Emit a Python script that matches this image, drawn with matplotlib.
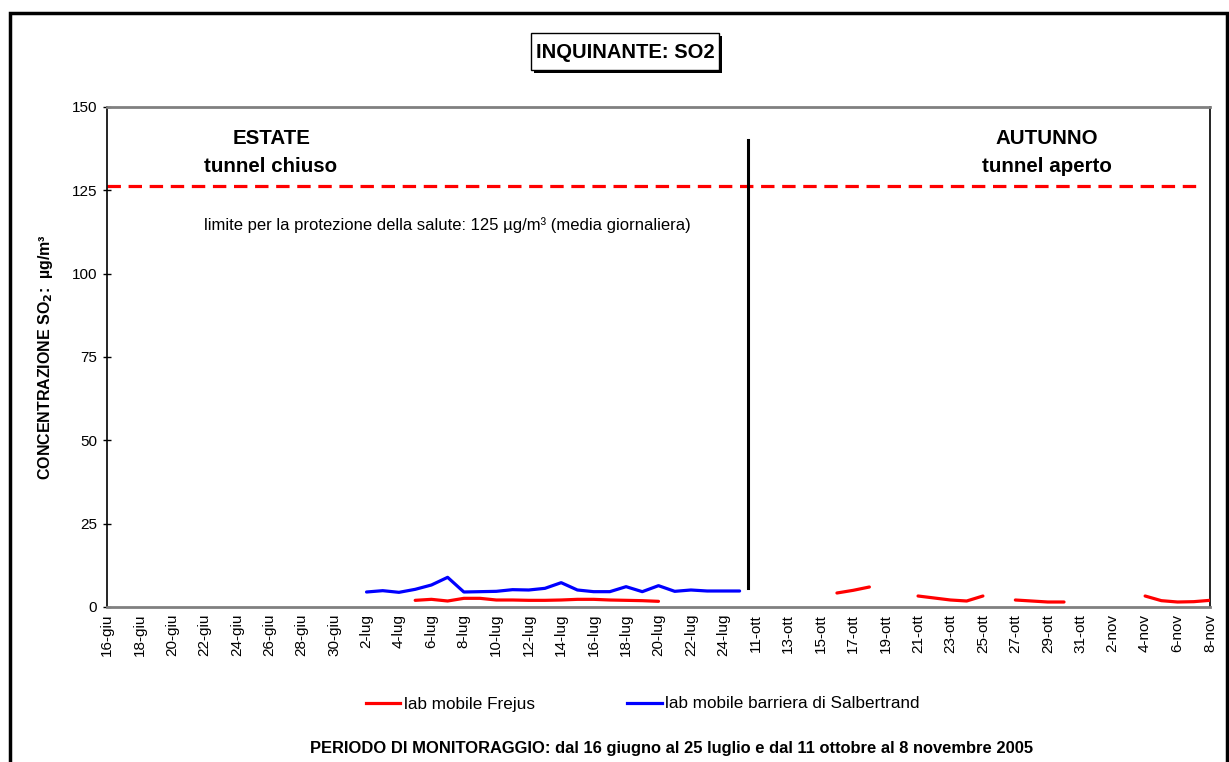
import numpy as np
import matplotlib
matplotlib.use("Agg")
import matplotlib.pyplot as plt
from matplotlib.patches import Rectangle
from matplotlib.lines import Line2D

plt.rcParams['font.family'] = ['Liberation Sans', 'DejaVu Sans']

# ---------------- data ----------------
summer_days = [f"{d}-giu" for d in range(16, 31)] + [f"{d}-lug" for d in range(1, 26)]
autumn_days = [f"{d}-ott" for d in range(11, 32)] + [f"{d}-nov" for d in range(1, 9)]
categories = summer_days + autumn_days

N = None
# lab mobile Frejus (red)
frejus_summer = [N] * 19 + [2.0, 2.3, 1.8, 2.6, 2.6, 2.1, 2.1, 2.0, 2.0, 2.1,
                            2.3, 2.3, 2.1, 2.0, 1.9, 1.7] + [N] * 5
frejus_autumn = [N, N, N, N, N, 4.2, 5.0, 6.0, N, N,
                 3.3, 2.7, 2.1, 1.8, 3.3, N, 2.1, 1.8, 1.5, 1.5,
                 N, N, N, N, 3.3, 1.9, 1.5, 1.6, 2.0]
# lab mobile barriera di Salbertrand (blue)
salbertrand_summer = [N] * 16 + [4.5, 4.9, 4.4, 5.3, 6.6, 8.9, 4.5, 4.6, 4.7, 5.2,
                                 5.1, 5.6, 7.3, 5.1, 4.6, 4.6, 6.1, 4.6, 6.4, 4.7,
                                 5.1, 4.8, 4.8, 4.8]
salbertrand_autumn = [N] * 29

frejus = frejus_summer + frejus_autumn
salbertrand = salbertrand_summer + salbertrand_autumn

limit_line_value = 126.3
separator_low, separator_high = 5.7, 140
y_ticks = [0, 25, 50, 75, 100, 125, 150]

def arr(v):
    return np.array([np.nan if x is None else x for x in v], dtype=float)

# ---------------- figure ----------------
W, H = 1229, 762
fig = plt.figure(figsize=(W / 100, H / 100), dpi=100)

def fx(px):
    return px / W

def fy(py):
    return 1 - py / H

ax = fig.add_axes([fx(107), fy(607), fx(1210) - fx(107), fy(107) - fy(607)])

x = np.arange(len(categories))
ax.plot(x, arr(frejus), color='#ff0000', lw=2.3, solid_capstyle='round', zorder=3)
ax.plot(x, arr(salbertrand), color='#0000ff', lw=2.3, solid_capstyle='round', zorder=3)

sep_x = len(summer_days) - 0.5
ax.plot([sep_x, sep_x], [separator_low, separator_high], color='black', lw=2.2, zorder=4)
ax.axhline(limit_line_value, xmin=0, xmax=(1197 - 107) / (1210 - 107), color='#ff0000',
           lw=2.3, ls=(0, (4.2, 2.4)), zorder=2)

ax.set_xlim(0, len(categories) - 1)
ax.set_ylim(0, 150)
ax.set_yticks(y_ticks)
ax.set_yticklabels([str(v) for v in y_ticks], fontsize=11)
ax.set_xticks(x[::2])
ax.set_xticklabels(categories[::2], rotation=90, fontsize=11)
ax.tick_params(axis='x', length=0, pad=5)
ax.tick_params(axis='y', direction='inout', length=6, width=1, pad=4)

for s in ['left', 'right']:
    ax.spines[s].set_color('black')
    ax.spines[s].set_linewidth(1.2)
for s in ['top', 'bottom']:
    ax.spines[s].set_color('#808080')
    ax.spines[s].set_linewidth(2)

ax.set_ylabel('CONCENTRAZIONE SO$_\\mathbf{2}$:  µg/m³', fontsize=11.5, fontweight='bold', labelpad=12)

# annotations
fig.text(fx(272), fy(139), 'ESTATE', ha='center', va='center', fontsize=14.8, fontweight='bold')
fig.text(fx(271), fy(166), 'tunnel chiuso', ha='center', va='center', fontsize=14.8, fontweight='bold')
fig.text(fx(1047), fy(139), 'AUTUNNO', ha='center', va='center', fontsize=14.8, fontweight='bold')
fig.text(fx(1047), fy(166), 'tunnel aperto', ha='center', va='center', fontsize=14.8, fontweight='bold')
fig.text(fx(447), fy(225), 'limite per la protezione della salute: 125 µg/m³ (media giornaliera)',
         ha='center', va='center', fontsize=12)

# title box with shadow
fig.add_artist(Rectangle((fx(534), fy(73)), fx(719) - fx(531), fy(33) - fy(70),
                         transform=fig.transFigure, facecolor='black', edgecolor='black', lw=0))
fig.add_artist(Rectangle((fx(531), fy(70)), fx(719) - fx(531), fy(33) - fy(70),
                         transform=fig.transFigure, facecolor='white', edgecolor='black', lw=1))
fig.text(fx(625), fy(52), 'INQUINANTE: SO2', ha='center', va='center', fontsize=14.5, fontweight='bold')

# outer frame
fig.add_artist(Rectangle((fx(10), fy(800)), fx(1227) - fx(10), fy(13) - fy(800),
                         transform=fig.transFigure, facecolor='none', edgecolor='black', lw=2.5))

# legend
handles = [Line2D([], [], color='#ff0000', lw=2.3), Line2D([], [], color='#0000ff', lw=2.3)]
fig.legend(handles, ['lab mobile Frejus', 'lab mobile barriera di Salbertrand'],
           loc='center', bbox_to_anchor=(fx(643), fy(704)), ncol=2, frameon=False,
           fontsize=12.3, handlelength=2.0, handletextpad=0.23, columnspacing=5.4)

fig.text(fx(672), fy(748), 'PERIODO DI MONITORAGGIO: dal 16 giugno al 25 luglio e dal 11 ottobre al 8 novembre 2005',
         ha='center', va='center', fontsize=11.9, fontweight='bold')

fig.savefig('out.png', dpi=100)
